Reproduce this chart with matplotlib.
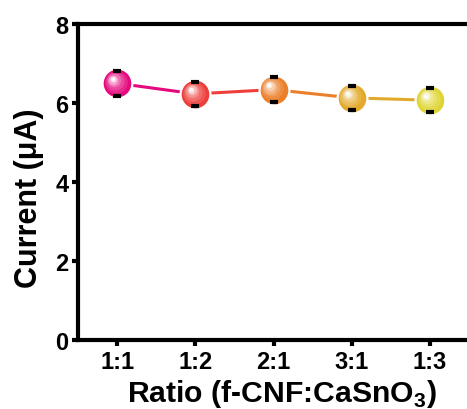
import numpy as np
import matplotlib
matplotlib.use("Agg")
import matplotlib.pyplot as plt
from matplotlib.colors import to_rgb
from matplotlib.transforms import offset_copy

ratios = ["1:1", "1:2", "2:1", "3:1", "1:3"]
current = [6.50, 6.23, 6.34, 6.13, 6.07]
current_err = [0.32, 0.31, 0.32, 0.31, 0.31]
colors = ["#E5097F", "#EE3E3A", "#EC7F2A", "#E3A92C", "#DED534"]

plt.rcParams["font.family"] = ["Liberation Sans", "DejaVu Sans"]
plt.rcParams["font.weight"] = "bold"
plt.rcParams["mathtext.fontset"] = "custom"
plt.rcParams["mathtext.bf"] = "Liberation Sans:bold"
plt.rcParams["mathtext.rm"] = "Liberation Sans:bold"

W, H = 467, 410
fig = plt.figure(figsize=(W / 100, H / 100), dpi=100)
ax = fig.add_axes([78 / W, 69 / H, 391 / W, 316 / H])

x = np.arange(1, len(ratios) + 1)

# connecting segments, each in the colour of its left point
for i in range(len(x) - 1):
    ax.plot(x[i:i + 2], current[i:i + 2], color=colors[i], lw=2.2, zorder=2,
            solid_capstyle="butt")

# shaded "ball" markers
white = np.array([1.0, 1.0, 1.0])
for xi, yi, c in zip(x, current, colors):
    ax.plot(xi, yi, "o", ms=21.5, color=c, mec="white", mew=1.6, zorder=3)
    base = np.array(to_rgb(c))
    layers = [(0.75, 0.12, 1.0), (0.6, 0.25, 1.6), (0.45, 0.42, 2.2),
              (0.32, 0.62, 2.7), (0.2, 0.85, 3.0), (0.1, 1.0, 3.2)]
    for frac, mix, off in layers:
        col = base + (white - base) * mix
        tr = offset_copy(ax.transData, fig=fig, x=-off, y=off, units="points")
        ax.plot(xi, yi, "o", ms=21.5 * frac, color=col, mew=0, zorder=4,
                transform=tr)

ax.errorbar(x, current, yerr=current_err, fmt="none", ecolor="black",
            elinewidth=0, capsize=3.2, capthick=3, zorder=5)

ax.set_xlim(0.5, 5.5)
ax.set_ylim(0, 8)
ax.set_xticks(x)
ax.set_xticklabels(ratios)
ax.set_yticks([0, 2, 4, 6, 8])

for s in ax.spines.values():
    s.set_linewidth(3)
ax.tick_params(axis="both", direction="out", length=4, width=3,
               labelsize=17, pad=3)

fig.text(281.5 / W, 1 - 402 / H, "Ratio (f-CNF:CaSnO$_\\mathbf{3}$)",
         fontsize=21.7, fontweight="bold", ha="center", va="baseline")
fig.text(37 / W, 1 - 288 / H, "Current (\u03bcA)", fontsize=22,
         fontweight="bold", rotation=90, rotation_mode="anchor",
         ha="left", va="baseline")

fig.savefig("out.png", dpi=100)
